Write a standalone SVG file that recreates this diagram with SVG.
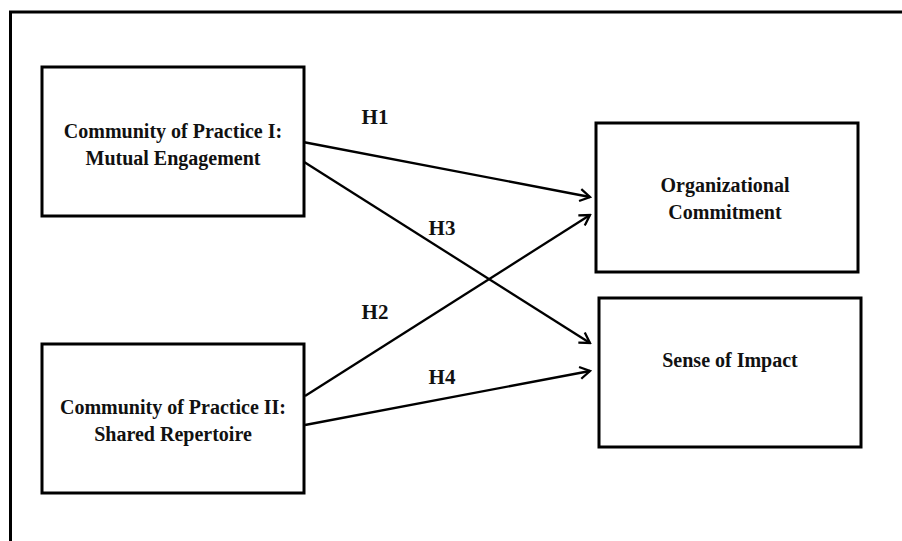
<svg xmlns="http://www.w3.org/2000/svg" width="902" height="541" viewBox="0 0 902 541">
<style>
.box{fill:#fff;stroke:#000;stroke-width:3}
.t{font-family:"Liberation Serif","Times New Roman",serif;font-weight:bold;font-size:20px;fill:#111;text-anchor:middle}
.lab{font-family:"Liberation Serif","Times New Roman",serif;font-weight:bold;font-size:21px;fill:#111;text-anchor:middle}
.c{stroke:#000;stroke-width:2.3;fill:none;marker-end:url(#ah)}
</style>
<defs>
<marker id="ah" markerWidth="14" markerHeight="14" refX="12" refY="7" orient="auto" markerUnits="userSpaceOnUse">
<path d="M2,1 L12,7 L2,13" fill="none" stroke="#000" stroke-width="2.3"/>
</marker>
</defs>
<rect width="902" height="541" fill="#fff"/>
<path d="M10.5,545 L10.5,12 L906,12" fill="none" stroke="#000" stroke-width="3"/>
<g id="connectors">
<line class="c" x1="303" y1="142" x2="590" y2="197"/>
<line class="c" x1="301" y1="160" x2="590" y2="343"/>
<line class="c" x1="305" y1="396" x2="590" y2="215"/>
<line class="c" x1="305" y1="425" x2="590" y2="371"/>
<text class="lab" x="375" y="124">H1</text>
<text class="lab" x="442" y="235">H3</text>
<text class="lab" x="375" y="319">H2</text>
<text class="lab" x="442" y="384">H4</text>
</g>
<g id="cop1">
<rect class="box" x="42" y="67" width="262" height="149"/>
<text class="t" x="173" y="138">Community of Practice I:</text>
<text class="t" x="173" y="165">Mutual Engagement</text>
</g>
<g id="cop2">
<rect class="box" x="42" y="344" width="262" height="149"/>
<text class="t" x="173" y="414">Community of Practice II:</text>
<text class="t" x="173" y="441">Shared Repertoire</text>
</g>
<g id="oc">
<rect class="box" x="596" y="123" width="262" height="149"/>
<text class="t" x="725" y="192">Organizational</text>
<text class="t" x="725" y="219">Commitment</text>
</g>
<g id="si">
<rect class="box" x="599" y="298" width="262" height="149"/>
<text class="t" x="730" y="367">Sense of Impact</text>
</g>
</svg>
